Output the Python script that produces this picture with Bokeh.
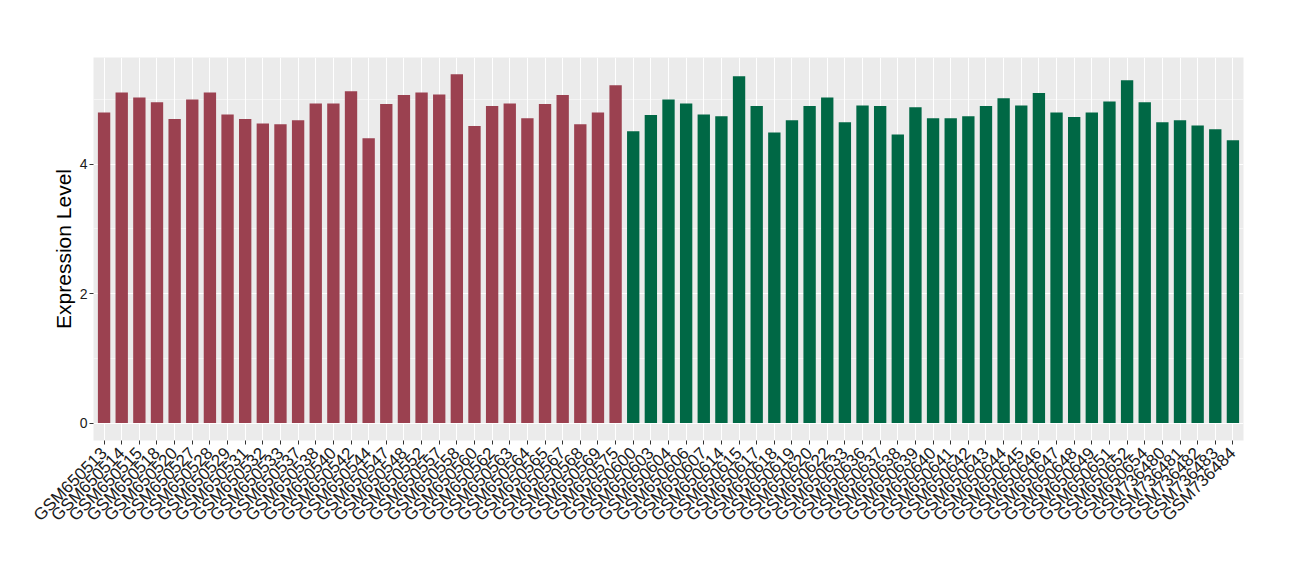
from math import pi
from bokeh.plotting import figure
from bokeh.models import FactorRange, Range1d, FixedTicker, ColumnDataSource
from bokeh.embed import file_html
from bokeh.resources import INLINE

group1_samples = ["GSM650513", "GSM650514", "GSM650515", "GSM650518", "GSM650520", "GSM650527",
                  "GSM650528", "GSM650529", "GSM650531", "GSM650532", "GSM650533", "GSM650537",
                  "GSM650538", "GSM650540", "GSM650542", "GSM650544", "GSM650547", "GSM650548",
                  "GSM650552", "GSM650557", "GSM650558", "GSM650560", "GSM650562", "GSM650563",
                  "GSM650564", "GSM650565", "GSM650567", "GSM650568", "GSM650569", "GSM650575"]
group1_values = [4.80, 5.11, 5.03, 4.96, 4.70, 5.00, 5.11, 4.77, 4.70, 4.63,
                 4.62, 4.68, 4.94, 4.94, 5.13, 4.40, 4.93, 5.07, 5.11, 5.08,
                 5.39, 4.59, 4.90, 4.94, 4.71, 4.93, 5.07, 4.62, 4.80, 5.22]

group2_samples = ["GSM650600", "GSM650603", "GSM650604", "GSM650606", "GSM650607", "GSM650614",
                  "GSM650615", "GSM650617", "GSM650618", "GSM650619", "GSM650620", "GSM650622",
                  "GSM650633", "GSM650636", "GSM650637", "GSM650638", "GSM650639", "GSM650640",
                  "GSM650641", "GSM650642", "GSM650643", "GSM650644", "GSM650645", "GSM650646",
                  "GSM650647", "GSM650648", "GSM650649", "GSM650651", "GSM650652", "GSM650654",
                  "GSM736480", "GSM736481", "GSM736482", "GSM736483", "GSM736484"]
group2_values = [4.51, 4.76, 5.00, 4.94, 4.77, 4.74, 5.36, 4.90, 4.49, 4.68,
                 4.90, 5.03, 4.65, 4.91, 4.90, 4.46, 4.88, 4.71, 4.71, 4.74,
                 4.90, 5.02, 4.91, 5.10, 4.80, 4.73, 4.80, 4.97, 5.30, 4.96,
                 4.65, 4.68, 4.60, 4.54, 4.37]

y_ticks = [0, 2, 4]
y_minor = [1, 3, 5]

color1 = "#9B4150"
color2 = "#006845"

factors = group1_samples + group2_samples

p = figure(width=1284, height=564,
           x_range=FactorRange(factors=factors, range_padding=0.1, range_padding_units="absolute"),
           y_range=Range1d(-0.27, 5.65),
           output_backend="svg", toolbar_location=None,
           min_border_left=93, min_border_right=41, min_border_top=57, min_border_bottom=124)

p.background_fill_color = "#EBEBEB"
p.border_fill_color = "white"
p.outline_line_color = None

src1 = ColumnDataSource(dict(x=group1_samples, top=group1_values))
src2 = ColumnDataSource(dict(x=group2_samples, top=group2_values))
p.vbar(x="x", top="top", bottom=0, width=0.7, source=src1, fill_color=color1, line_color=None)
p.vbar(x="x", top="top", bottom=0, width=0.7, source=src2, fill_color=color2, line_color=None)

p.yaxis.ticker = FixedTicker(ticks=y_ticks, minor_ticks=y_minor)
p.ygrid.grid_line_color = "white"
p.ygrid.grid_line_width = 1.1
p.ygrid.minor_grid_line_color = "white"
p.ygrid.minor_grid_line_width = 0.5
p.xgrid.grid_line_color = "white"
p.xgrid.grid_line_width = 1.1

for ax in (p.xaxis, p.yaxis):
    ax.axis_line_color = None
    ax.major_tick_line_color = "#333333"
    ax.major_tick_line_width = 1
    ax.major_tick_in = 0
    ax.major_tick_out = 4
    ax.minor_tick_line_color = None
    ax.major_label_text_font = "Liberation Sans"
    ax.major_label_text_color = "#1A1A1A"
    ax.major_label_text_font_size = "14px"

p.xaxis.major_label_orientation = pi / 4
p.xaxis.major_label_standoff = 6
p.xaxis.major_label_text_font_size = "17px"
p.xaxis.group_text_font_size = "0px"

p.yaxis.major_label_standoff = 2
p.yaxis.axis_label = "Expression Level"
p.yaxis.axis_label_text_font = "Liberation Sans"
p.yaxis.axis_label_text_font_style = "normal"
p.yaxis.axis_label_text_font_size = "21px"
p.yaxis.axis_label_text_color = "black"
p.yaxis.axis_label_standoff = 2

open("out.html", "w").write(file_html(p, INLINE))
